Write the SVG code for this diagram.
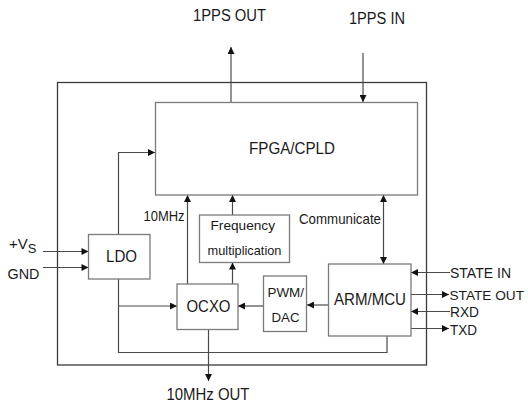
<svg xmlns="http://www.w3.org/2000/svg" width="528" height="406" viewBox="0 0 528 406">
<defs>
<style>
.box{fill:#fff;stroke:#7a7a7a;stroke-width:1.3}
.outer{fill:none;stroke:#3a3a3a;stroke-width:1.3}
.ln{fill:none;stroke:#4a4a4a;stroke-width:1.2}
text{font-family:"Liberation Sans",Arial,sans-serif;fill:#1a1a1a}
.l{font-size:16px}
.m{font-size:15px}
.s{font-size:13.5px}
</style>
<marker id="ah" viewBox="0 0 10 10" refX="10" refY="5" markerWidth="9" markerHeight="7" markerUnits="userSpaceOnUse" orient="auto-start-reverse">
<path d="M0,0 L10,5 L0,10 z" fill="#111"/>
</marker>
</defs>
<rect class="outer" x="57.5" y="82.5" width="369" height="282.5"/>
<g id="connectors">
<path class="ln" d="M231,102 V47" marker-end="url(#ah)"/>
<path class="ln" d="M363,53 V102" marker-end="url(#ah)"/>
<path class="ln" d="M118.5,234 V152.5 H155" marker-end="url(#ah)"/>
<path class="ln" d="M118.5,279 V352.5 H387 V336"/>
<path class="ln" d="M118.5,306 H177" marker-end="url(#ah)"/>
<path class="ln" d="M187.5,284 V195" marker-end="url(#ah)"/>
<path class="ln" d="M232.5,284 V262.5" marker-end="url(#ah)"/>
<path class="ln" d="M232.5,215 V195" marker-end="url(#ah)"/>
<path class="ln" d="M263.5,306 H238" marker-end="url(#ah)"/>
<path class="ln" d="M328.5,305 H307" marker-end="url(#ah)"/>
<path class="ln" d="M383.5,195 V264" marker-start="url(#ah)" marker-end="url(#ah)"/>
<path class="ln" d="M43,251.5 H88.5" marker-end="url(#ah)"/>
<path class="ln" d="M43,267.5 H88.5" marker-end="url(#ah)"/>
<path class="ln" d="M450,272.5 H411" marker-end="url(#ah)"/>
<path class="ln" d="M411,294.5 H449" marker-end="url(#ah)"/>
<path class="ln" d="M450,311.5 H411" marker-end="url(#ah)"/>
<path class="ln" d="M411,328.5 H449" marker-end="url(#ah)"/>
<path class="ln" d="M208.5,329.5 V381" marker-end="url(#ah)"/>
</g>
<g id="fpga">
<rect class="box" x="155.5" y="102.5" width="262" height="92.5"/>
<text class="l" x="249" y="154" textLength="86" lengthAdjust="spacingAndGlyphs">FPGA/CPLD</text>
</g>
<g id="ldo">
<rect class="box" x="88.5" y="234.5" width="61.5" height="44.5"/>
<text class="l" x="106" y="261.5" textLength="31" lengthAdjust="spacingAndGlyphs">LDO</text>
</g>
<g id="freq">
<rect class="box" x="199.5" y="215" width="90" height="47.5"/>
<text class="s" x="210.5" y="229.5" textLength="64.5" lengthAdjust="spacingAndGlyphs">Frequency</text>
<text class="s" x="207.5" y="255" textLength="74" lengthAdjust="spacingAndGlyphs">multiplication</text>
</g>
<g id="ocxo">
<rect class="box" x="177" y="284" width="61" height="45.5"/>
<text class="l" x="186.5" y="311.5" textLength="44" lengthAdjust="spacingAndGlyphs">OCXO</text>
</g>
<g id="pwm">
<rect class="box" x="263.5" y="276" width="43" height="55.5"/>
<text class="s" x="267.5" y="296.5" textLength="36.5" lengthAdjust="spacingAndGlyphs">PWM/</text>
<text class="s" x="271.5" y="321.5" textLength="28" lengthAdjust="spacingAndGlyphs">DAC</text>
</g>
<g id="arm">
<rect class="box" x="328.5" y="264" width="82.5" height="72"/>
<text class="l" x="334" y="305" textLength="72" lengthAdjust="spacingAndGlyphs">ARM/MCU</text>
</g>
<g id="labels">
<text class="l" x="193" y="21" textLength="73" lengthAdjust="spacingAndGlyphs">1PPS OUT</text>
<text class="l" x="349" y="24" textLength="56" lengthAdjust="spacingAndGlyphs">1PPS IN</text>
<text class="m" x="143.5" y="220.5" textLength="41" lengthAdjust="spacingAndGlyphs">10MHz</text>
<text class="m" x="299" y="224" textLength="82" lengthAdjust="spacingAndGlyphs">Communicate</text>
<text class="m" x="9" y="248.5">+V<tspan font-size="13" dy="4">S</tspan></text>
<text class="m" x="7.5" y="279" textLength="32" lengthAdjust="spacingAndGlyphs">GND</text>
<text class="m" x="450" y="278" textLength="61" lengthAdjust="spacingAndGlyphs">STATE IN</text>
<text x="449.5" y="300" font-size="13.4" textLength="74.5" lengthAdjust="spacingAndGlyphs">STATE OUT</text>
<text class="m" x="450" y="317" textLength="29" lengthAdjust="spacingAndGlyphs">RXD</text>
<text class="m" x="450" y="334.5" textLength="27" lengthAdjust="spacingAndGlyphs">TXD</text>
<text class="l" x="166.5" y="400" textLength="83" lengthAdjust="spacingAndGlyphs">10MHz OUT</text>
</g>
</svg>
